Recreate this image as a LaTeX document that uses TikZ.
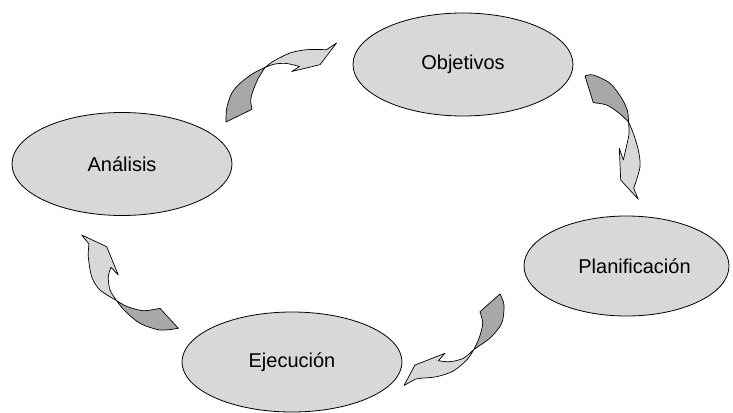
\documentclass[tikz,border=0pt]{standalone}
\usepackage{fontspec}
\setmainfont{Liberation Sans}
\usetikzlibrary{shapes.geometric}
\definecolor{ellfill}{HTML}{D8D8D8}
\definecolor{darkpart}{HTML}{A8A8A8}
\definecolor{lightpart}{HTML}{D8D8D8}
\tikzset{
  ell/.style={ellipse, draw=black, line width=0.8pt, fill=ellfill, inner sep=0pt,
              minimum width=220pt, minimum height=103pt,
              font=\fontsize{20}{24}\selectfont},
  darkside/.style={draw=black, line width=0.7pt, fill=darkpart, line join=round},
  lightside/.style={draw=black, line width=0.7pt, fill=lightpart, line join=round},
}
\begin{document}
\begin{tikzpicture}[x=1pt,y=-1pt]
\useasboundingbox (0,0) rectangle (733,412);

% ellipses
\node[ell] (obj) at (463,64.5) {Objetivos};
\node[ell] (ana) at (122,164) {Análisis};
\node[ell, minimum width=205pt, minimum height=100pt] (pla) at (626.5,266) {\hspace*{16pt}Planificación};
\node[ell, minimum height=100pt] (eje) at (292,362) {Ejecución};

% arrow 1: Analisis -> Objetivos
\path[darkside] (226,122) -- (252,109.3)
  -- plot[smooth] coordinates {(252,109.3) (250.7,100) (253.3,90) (258.3,78.3) (265,67.5)}
  -- plot[smooth] coordinates {(265,67.5) (253.3,73.3) (240,83.3) (231.7,93.3) (226.7,108.3) (226,122)}
  -- cycle;
\path[lightside] (265,67.5)
  -- plot[smooth] coordinates {(265,67.5) (273.3,61.3) (290,53) (306.7,49.7) (326.5,49.7)}
  -- (336.5,43) -- (320,64.7) -- (291.7,71.5) -- (299.5,66.5)
  -- plot[smooth] coordinates {(299.5,66.5) (286.7,63.5) (275,64) (265,67.5)}
  -- cycle;

% arrow 2: Objetivos -> Planificacion
\path[darkside] (585,76) -- (593.3,102.7)
  -- plot[smooth] coordinates {(593.3,102.7) (606.7,105) (618.3,112.5) (625.5,119) (628.5,122)}
  -- plot[smooth] coordinates {(628.5,122) (627.5,111) (621.7,98.3) (610,83.3) (593.3,75) (585,76)}
  -- cycle;
\path[lightside] (628.5,122)
  -- plot[smooth] coordinates {(628.5,122) (633.3,133.3) (638.3,150) (640,166.7) (633.7,188.3)}
  -- (638.3,199.3) -- (620.7,180) -- (619.3,148.3) -- (623.3,160)
  -- plot[smooth] coordinates {(623.3,160) (626,148.3) (629,134) (628.5,122)}
  -- cycle;

% arrow 3: Planificacion -> Ejecucion
\path[darkside] (500,294) -- (480,311.7)
  -- plot[smooth] coordinates {(480,311.7) (482.7,323.3) (479.5,337) (474,349.3)}
  -- plot[smooth] coordinates {(474,349.3) (490,338) (501.7,323.3) (504,305) (500,294)}
  -- cycle;
\path[lightside] (474,349.3)
  -- plot[smooth] coordinates {(474,349.3) (466.7,360) (453.3,371) (436.7,376.7) (420,378.3) (415,379.3)}
  -- (404,385.5) -- (415,365) -- (445,353.3) -- (438.3,360.7)
  -- plot[smooth] coordinates {(438.3,360.7) (450,361.7) (463.3,358.3) (474,349.3)}
  -- cycle;

% arrow 4: Ejecucion -> Analisis
\path[darkside] (178.3,328.3) -- (160,308.3)
  -- plot[smooth] coordinates {(160,308.3) (143.3,310.7) (127,306.5) (116.5,300.5)}
  -- plot[smooth] coordinates {(116.5,300.5) (125,311) (140,323.3) (160,330) (178.3,328.3)}
  -- cycle;
\path[lightside] (116.5,300.5)
  -- plot[smooth] coordinates {(116.5,300.5) (100,290) (91.7,276.7) (88.3,256.7) (89,244)}
  -- (81.7,235) -- (106.7,246.7) -- (118.3,275) -- (111,267.3)
  -- plot[smooth] coordinates {(111,267.3) (108.3,276.7) (110,290) (116.5,300.5)}
  -- cycle;
\end{tikzpicture}
\end{document}
